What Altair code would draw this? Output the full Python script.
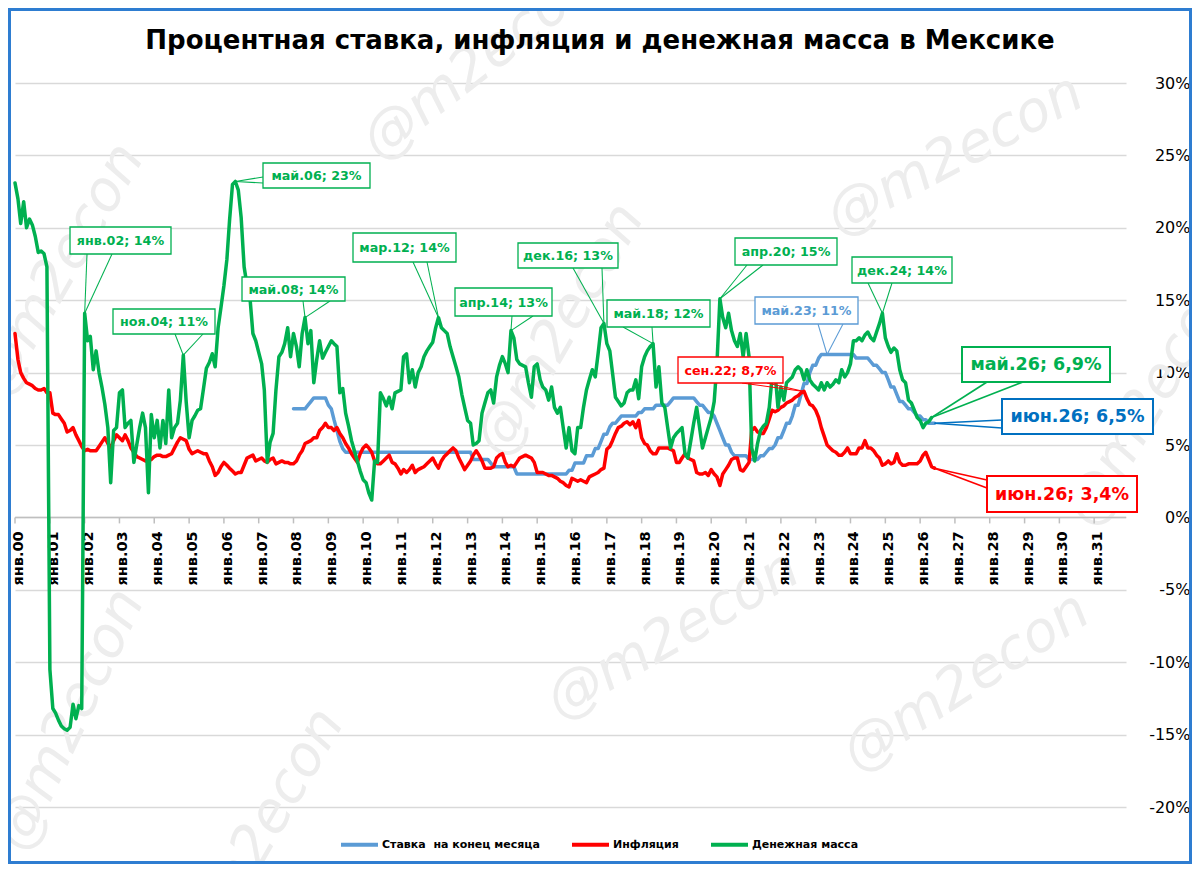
import altair as alt
import pandas as pd

TITLE = "Процентная ставка, инфляция и денежная масса в Мексике"
SERIES = ["Ставка\u00a0 на конец месяца", "Инфляция", "Денежная масса"]
COLORS = ["#5B9BD5", "#FF0000", "#00B050"]
WATERMARK = "@m2econ"

X_TICK_LABELS = ["янв.00", "янв.01", "янв.02", "янв.03", "янв.04", "янв.05", "янв.06", "янв.07",
                 "янв.08", "янв.09", "янв.10", "янв.11", "янв.12", "янв.13", "янв.14", "янв.15",
                 "янв.16", "янв.17", "янв.18", "янв.19", "янв.20", "янв.21", "янв.22", "янв.23",
                 "янв.24", "янв.25", "янв.26", "янв.27", "янв.28", "янв.29", "янв.30", "янв.31"]
Y_TICKS = [-20, -15, -10, -5, 0, 5, 10, 15, 20, 25, 30]
Y_TICK_LABELS = ["-20%", "-15%", "-10%", "-5%", "0%", "5%", "10%", "15%", "20%", "25%", "30%"]

# Денежная масса, % г/г, monthly from Jan 2000 to May 2026
money = [
    23.1, 22.0, 20.3, 21.8, 20.0, 20.6, 20.2, 19.4, 18.3, 18.4, 18.2, 17.3,  # 2000
    -10.5, -13.2, -13.5, -14.0, -14.4, -14.6, -14.7, -14.5, -12.9, -13.9, -13.0, -13.2,  # 2001
    14.1, 12.2, 12.5, 10.2, 11.5, 10.0, 9.0, 7.8, 6.2, 2.4, 6.0, 6.2,  # 2002
    8.6, 8.8, 6.2, 6.5, 6.7, 3.8, 5.0, 6.2, 7.2, 6.2, 1.7, 7.1,  # 2003
    5.5, 6.7, 4.8, 6.7, 5.1, 8.8, 5.5, 6.2, 6.5, 8.1, 11.2, 8.0,  # 2004
    5.5, 6.7, 7.0, 7.4, 7.5, 8.9, 10.3, 10.7, 11.3, 10.4, 13.1, 14.5,  # 2005
    16.0, 17.8, 20.5, 23.0, 23.2, 22.6, 20.7, 17.3, 16.0, 15.2, 12.7, 12.2,  # 2006
    11.4, 10.6, 8.8, 3.8, 5.2, 5.8, 8.8, 11.1, 11.4, 12.0, 13.1, 11.1,  # 2007
    12.7, 11.8, 10.4, 12.7, 13.8, 12.0, 12.9, 9.3, 10.9, 12.2, 11.0, 11.4,  # 2008
    11.8, 12.2, 12.0, 11.8, 8.6, 8.9, 7.2, 6.3, 5.3, 4.6, 3.9, 3.2,  # 2009
    2.6, 2.4, 1.7, 1.2, 3.9, 3.8, 8.6, 8.2, 7.7, 8.3, 7.5, 8.6,  # 2010
    8.7, 8.8, 11.1, 11.3, 9.3, 10.2, 9.0, 10.0, 10.4, 11.1, 11.5, 11.8,  # 2011
    12.1, 13.1, 13.8, 13.1, 12.9, 12.7, 11.8, 11.1, 10.4, 9.7, 8.5, 7.6,  # 2012
    6.7, 6.5, 5.0, 5.1, 5.3, 7.2, 7.9, 8.6, 8.8, 7.9, 9.7, 10.5,  # 2013
    11.1, 10.6, 10.0, 12.9, 12.4, 10.9, 10.6, 10.5, 10.4, 9.3, 8.3, 10.4,  # 2014
    10.6, 9.5, 9.0, 8.8, 8.1, 9.0, 7.6, 7.2, 7.6, 6.2, 4.8, 6.2,  # 2015
    4.6, 4.4, 6.2, 6.2, 7.6, 8.8, 9.5, 10.2, 9.7, 11.3, 13.1, 13.4,  # 2016
    12.0, 11.5, 10.0, 8.3, 8.0, 7.7, 7.9, 8.6, 8.8, 8.8, 9.5, 8.2,  # 2017
    10.4, 11.1, 11.5, 11.8, 12.0, 9.0, 10.4, 7.9, 7.6, 6.2, 4.8, 5.5,  # 2018
    5.8, 6.0, 6.2, 4.4, 4.1, 5.3, 6.5, 7.6, 6.2, 4.8, 5.5, 6.2,  # 2019
    6.9, 8.0, 10.6, 15.1, 13.8, 13.1, 14.1, 12.9, 12.2, 11.8, 12.7, 11.1,  # 2020
    12.7, 11.1, 4.8, 3.9, 5.1, 6.0, 6.3, 6.5, 7.6, 9.7, 10.0, 7.6,  # 2021
    9.0, 8.1, 9.3, 9.5, 9.7, 10.2, 10.4, 10.2, 9.5, 10.2, 9.5, 9.2,  # 2022
    9.0, 8.8, 9.3, 8.8, 9.3, 9.0, 9.2, 9.5, 9.3, 10.2, 9.7, 10.0,  # 2023
    10.6, 12.2, 12.2, 12.4, 12.2, 12.6, 12.8, 12.4, 12.2, 12.8, 13.4, 14.1,  # 2024
    12.4, 11.8, 11.4, 11.7, 11.5, 10.2, 9.5, 9.3, 8.1, 7.9, 7.4, 6.9,  # 2025
    6.7, 6.2, 6.5, 6.6, 6.9,  # 2026
]

# Инфляция, % г/г, monthly from Jan 2000 to Jun 2026
inflation = [
    12.7, 10.9, 10.0, 9.6, 9.3, 9.2, 9.1, 8.9, 8.8, 8.8, 8.9, 8.6,  # 2000
    8.6, 7.2, 7.1, 7.1, 6.8, 6.5, 5.9, 6.0, 6.2, 5.7, 5.3, 4.9,  # 2001
    4.6, 4.7, 4.6, 4.6, 4.6, 4.9, 5.2, 5.5, 5.1, 4.8, 5.3, 5.7,  # 2002
    5.5, 5.3, 5.7, 5.3, 4.8, 4.5, 4.2, 4.1, 4.0, 3.9, 3.9, 4.0,  # 2003
    4.2, 4.3, 4.3, 4.2, 4.2, 4.3, 4.4, 4.8, 5.2, 5.5, 5.4, 5.3,  # 2004
    4.7, 4.4, 4.5, 4.6, 4.5, 4.4, 4.4, 3.9, 3.5, 2.9, 3.1, 3.5,  # 2005
    3.8, 3.6, 3.4, 3.2, 3.0, 3.1, 3.1, 3.6, 4.1, 4.2, 4.3, 3.9,  # 2006
    4.0, 4.1, 3.9, 3.8, 4.0, 4.1, 3.7, 3.8, 3.9, 3.8, 3.8, 3.7,  # 2007
    3.7, 3.9, 4.3, 4.6, 5.1, 5.2, 5.3, 5.5, 5.5, 6.0, 6.2, 6.5,  # 2008
    6.2, 6.2, 6.0, 6.2, 5.8, 5.5, 5.1, 4.8, 4.4, 4.1, 3.8, 4.4,  # 2009
    4.8, 5.0, 4.8, 4.5, 3.9, 3.7, 3.7, 3.9, 4.1, 4.3, 3.8, 3.7,  # 2010
    3.4, 3.0, 3.3, 3.1, 3.3, 3.6, 3.1, 3.3, 3.4, 3.5, 3.7, 3.9,  # 2011
    4.1, 3.7, 3.4, 3.9, 4.2, 4.4, 4.6, 4.8, 4.6, 4.1, 3.7, 3.3,  # 2012
    3.6, 3.9, 4.3, 4.6, 4.3, 3.9, 3.4, 3.4, 3.4, 3.5, 4.1, 4.3,  # 2013
    4.4, 3.8, 3.5, 3.6, 3.5, 3.8, 4.1, 4.2, 4.3, 4.2, 4.1, 3.8,  # 2014
    3.1, 3.1, 3.1, 3.0, 2.9, 2.9, 2.8, 2.7, 2.5, 2.4, 2.2, 2.1,  # 2015
    2.7, 2.6, 2.5, 2.6, 2.5, 2.4, 2.8, 2.9, 3.0, 3.1, 3.3, 3.4,  # 2016
    4.7, 4.9, 5.3, 5.8, 6.2, 6.3, 6.5, 6.6, 6.4, 6.6, 6.2, 6.7,  # 2017
    5.5, 5.1, 5.0, 4.6, 4.4, 4.4, 4.8, 4.8, 4.8, 4.8, 4.7, 4.6,  # 2018
    3.8, 3.8, 4.1, 4.4, 4.1, 4.0, 3.9, 3.1, 3.0, 3.0, 3.1, 2.9,  # 2019
    3.3, 3.0, 2.8, 2.2, 3.0, 3.3, 3.6, 4.0, 4.1, 4.1, 3.3, 3.2,  # 2020
    3.5, 3.8, 6.0, 6.2, 5.9, 5.8, 5.8, 6.2, 6.8, 7.4, 7.3, 7.4,  # 2021
    7.6, 7.7, 7.9, 8.0, 8.1, 8.3, 8.4, 8.6, 8.7, 8.2, 7.8, 7.7,  # 2022
    7.4, 6.9, 6.2, 5.6, 5.0, 4.8, 4.6, 4.5, 4.3, 4.3, 4.5, 4.8,  # 2023
    4.4, 4.4, 4.4, 4.8, 4.8, 5.3, 4.8, 4.8, 4.6, 4.3, 4.1, 3.6,  # 2024
    3.7, 3.9, 3.7, 3.8, 4.4, 3.8, 3.6, 3.6, 3.7, 3.7, 3.7, 3.7,  # 2025
    3.9, 4.3, 4.5, 4.0, 3.5, 3.4,  # 2026
]

# Ставка на конец месяца, %, monthly from Jan 2008 to Jun 2026
rate = [
    7.5, 7.5, 7.5, 7.5, 7.5, 7.75, 8.0, 8.25, 8.25, 8.25, 8.25, 8.25,  # 2008
    7.75, 7.5, 6.75, 6.0, 5.25, 4.75, 4.5, 4.5, 4.5, 4.5, 4.5, 4.5,  # 2009
    4.5, 4.5, 4.5, 4.5, 4.5, 4.5, 4.5, 4.5, 4.5, 4.5, 4.5, 4.5,  # 2010
    4.5, 4.5, 4.5, 4.5, 4.5, 4.5, 4.5, 4.5, 4.5, 4.5, 4.5, 4.5,  # 2011
    4.5, 4.5, 4.5, 4.5, 4.5, 4.5, 4.5, 4.5, 4.5, 4.5, 4.5, 4.5,  # 2012
    4.5, 4.5, 4.0, 4.0, 4.0, 4.0, 4.0, 4.0, 3.75, 3.5, 3.5, 3.5,  # 2013
    3.5, 3.5, 3.5, 3.5, 3.5, 3.0, 3.0, 3.0, 3.0, 3.0, 3.0, 3.0,  # 2014
    3.0, 3.0, 3.0, 3.0, 3.0, 3.0, 3.0, 3.0, 3.0, 3.0, 3.0, 3.25,  # 2015
    3.25, 3.75, 3.75, 3.75, 3.75, 4.25, 4.25, 4.25, 4.75, 4.75, 5.25, 5.75,  # 2016
    5.75, 6.25, 6.5, 6.5, 6.75, 7.0, 7.0, 7.0, 7.0, 7.0, 7.0, 7.25,  # 2017
    7.25, 7.5, 7.5, 7.5, 7.5, 7.75, 7.75, 7.75, 7.75, 7.75, 8.0, 8.25,  # 2018
    8.25, 8.25, 8.25, 8.25, 8.25, 8.25, 8.25, 8.0, 7.75, 7.75, 7.5, 7.25,  # 2019
    7.25, 7.0, 6.5, 6.0, 5.5, 5.0, 5.0, 4.5, 4.25, 4.25, 4.25, 4.25,  # 2020
    4.25, 4.0, 4.0, 4.0, 4.0, 4.25, 4.25, 4.5, 4.75, 4.75, 5.0, 5.5,  # 2021
    5.5, 6.0, 6.5, 6.5, 7.0, 7.75, 7.75, 8.5, 9.25, 9.25, 10.0, 10.5,  # 2022
    10.5, 11.0, 11.25, 11.25, 11.25, 11.25, 11.25, 11.25, 11.25, 11.25, 11.25, 11.25,  # 2023
    11.25, 11.25, 11.0, 11.0, 11.0, 11.0, 11.0, 10.75, 10.5, 10.5, 10.25, 10.0,  # 2024
    10.0, 9.5, 9.0, 9.0, 8.5, 8.0, 8.0, 7.75, 7.5, 7.5, 7.25, 7.0,  # 2025
    7.0, 6.75, 6.75, 6.5, 6.5, 6.5,  # 2026
]

# Callout labels: text, series index, month of the marked point
ANN_TEXT = ["янв.02; 14%", "ноя.04; 11%", "май.06; 23%", "май.08; 14%", "мар.12; 14%",
            "апр.14; 13%", "дек.16; 13%", "май.18; 12%", "апр.20; 15%", "сен.22; 8,7%",
            "май.23; 11%", "дек.24; 14%", "май.26; 6,9%", "июн.26; 6,5%", "июн.26; 3,4%"]
ANN_SERIES = [2, 2, 2, 2, 2, 2, 2, 2, 2, 1, 0, 2, 2, 0, 1]
ANN_MONTH = ["2002-01", "2004-11", "2006-05", "2008-05", "2012-03", "2014-04", "2016-12",
             "2018-05", "2020-04", "2022-09", "2023-05", "2024-12", "2026-05", "2026-06", "2026-06"]

# ---- layout (page pixels of callout boxes and pointer roots; styles) ----
ANN_BOX = [(70, 227, 171, 254), (113, 309, 215, 334), (263, 163, 370, 188), (242, 277, 345, 301),
           (353, 233, 456, 262), (455, 288, 552, 316), (518, 243, 618, 268), (607, 300, 710, 327),
           (735, 238, 837, 265), (678, 357, 783, 383), (755, 297, 858, 324), (852, 257, 952, 283),
           (962, 347, 1110, 382), (1002, 399, 1153, 434), (987, 476, 1137, 512)]
ANN_ROOTS = [((87, 254), (112, 254)), ((175, 334), (203, 334)), ((263, 177), (263, 183)),
             ((303, 301), (330, 301)), ((413, 262), (427, 262)), ((512, 316), (533, 316)),
             ((573, 268), (602, 268)), ((623, 327), (652, 327)), ((747, 265), (763, 265)),
             ((742, 383), (767, 383)), ((818, 324), (843, 324)), ((868, 283), (892, 283)),
             ((987, 382), (1023, 382)), ((1002, 420), (1002, 428)), ((987, 480), (987, 488))]
ANN_FS = [12.7] * 12 + [17.5, 17.5, 17.5]
ANN_SW = [1.3] * 12 + [2.0, 2.0, 2.0]
ANN_COLOR = ["#00B050"] * 9 + ["#FF0000", "#5B9BD5", "#00B050", "#00B050", "#0070C0", "#FF0000"]

# watermark centres (page px) and rotation
WM_POS = [(480, 62), (955, 155), (60, 270), (560, 330), (1150, 400), (673, 635), (966, 682),
          (70, 720), (260, 835)]
WM_ANGLE = [322, 332, 300, 300, 300, 330, 327, 295, 300]

FONT = "DejaVu Sans"
PLOT_W, PLOT_H = 1111, 724
PX0, PY0 = 15, 83
T0 = pd.Timestamp("2000-01-01")
T1 = pd.Timestamp("2031-12-01")
Y_MIN, Y_MAX = -20, 30
ZERO_PX = PLOT_H * Y_MAX / (Y_MAX - Y_MIN)  # pixel row of the 0% line inside the plot


def px_t(px):
    return T0 + (px - PX0) / PLOT_W * (T1 - T0)


def py_v(py):
    return Y_MAX - (py - PY0) / PLOT_H * (Y_MAX - Y_MIN)


# ---- data tables ----
frames = []
for name, vals, start in [(SERIES[0], rate, "2008-01-01"), (SERIES[1], inflation, "2000-01-01"),
                          (SERIES[2], money, "2000-01-01")]:
    frames.append(pd.DataFrame({"date": pd.date_range(start, periods=len(vals), freq="MS"),
                                "value": vals, "series": name}))
lines_df = pd.concat(frames, ignore_index=True)

box_rows, text_rows, rule_rows = [], [], []
for i, txt in enumerate(ANN_TEXT):
    name = SERIES[ANN_SERIES[i]]
    d = pd.Timestamp(ANN_MONTH[i] + "-01")
    sub = lines_df[(lines_df.series == name) & (lines_df.date == d)]
    tip_v = float(sub.value.iloc[0])
    x0, y0, x1, y1 = ANN_BOX[i]
    box_rows.append({"x": px_t(x0), "x2": px_t(x1), "y": py_v(y0), "y2": py_v(y1),
                     "col": ANN_COLOR[i], "sw": ANN_SW[i]})
    text_rows.append({"x": px_t((x0 + x1) / 2), "y": py_v((y0 + y1) / 2 + 0.5), "text": txt,
                      "col": ANN_COLOR[i], "fs": ANN_FS[i]})
    for (rx, ry) in ANN_ROOTS[i]:
        rule_rows.append({"x": px_t(rx), "y": py_v(ry), "x2": d, "y2": tip_v,
                          "col": ANN_COLOR[i], "sw": ANN_SW[i] * 0.8})
box_df = pd.DataFrame(box_rows)
text_df = pd.DataFrame(text_rows)
rule_df = pd.DataFrame(rule_rows)
wm_df = pd.DataFrame({"x": [px_t(p[0]) for p in WM_POS], "y": [py_v(p[1]) for p in WM_POS],
                      "angle": WM_ANGLE, "text": WATERMARK})
xt_df = pd.DataFrame({"date": pd.date_range("2000-01-01", periods=len(X_TICK_LABELS), freq="YS"),
                      "label": X_TICK_LABELS})

x_scale = alt.Scale(domain=[alt.DateTime(year=2000, month=1, date=1),
                            alt.DateTime(year=2031, month=12, date=1)])
y_scale = alt.Scale(domain=[Y_MIN, Y_MAX], nice=False)

y_label_expr = "{" + ",".join("'%d':'%s'" % (v, s) for v, s in zip(Y_TICKS, Y_TICK_LABELS)) + "}[datum.value]"

x_enc = alt.X("date:T", scale=x_scale, title=None,
              axis=alt.Axis(labels=False, ticks=False, grid=False, domain=False))
y_enc = alt.Y("value:Q", scale=y_scale, title=None,
              axis=alt.Axis(orient="right", values=Y_TICKS, labelExpr=y_label_expr, grid=True,
                            gridColor="#D9D9D9", gridWidth=1.5, domain=False, ticks=False,
                            labelAlign="right", labelPadding=64, labelFont=FONT,
                            labelFontSize=16, labelColor="black"))

color_enc = alt.Color("series:N", scale=alt.Scale(domain=SERIES, range=COLORS),
                      legend=alt.Legend(title=None, orient="none", legendX=324, legendY=741,
                                        direction="horizontal", symbolType="stroke",
                                        symbolSize=1369, symbolStrokeWidth=4,
                                        labelFont=FONT, labelFontSize=11, labelFontWeight="bold",
                                        labelColor="black", labelLimit=400, labelOffset=2,
                                        columnPadding=24))

watermarks = alt.Chart(wm_df).mark_text(font=FONT, fontSize=56, fontStyle="italic",
                                        color="#EDEDED", align="center",
                                        baseline="middle").encode(
    x=alt.X("x:T", scale=x_scale), y=alt.Y("y:Q", scale=y_scale), text="text:N",
    angle=alt.Angle("angle:Q", scale=None))

# x axis at the 0% line: domain, yearly ticks and rotated labels
x_domain = alt.Chart(pd.DataFrame({"t": [0]})).mark_rule(color="#BFBFBF", strokeWidth=1.5).encode(
    x=alt.value(0), x2=alt.value(PLOT_W), y=alt.value(ZERO_PX))
x_ticks = alt.Chart(xt_df).mark_rule(color="#BFBFBF", strokeWidth=1.5).encode(
    x=alt.X("date:T", scale=x_scale), y=alt.value(ZERO_PX), y2=alt.value(ZERO_PX + 6))
x_labels = alt.Chart(xt_df).mark_text(font=FONT, fontSize=14.5, fontWeight="bold",
                                      color="black", angle=270, align="right",
                                      baseline="middle", dy=4).encode(
    x=alt.X("date:T", scale=x_scale), y=alt.value(ZERO_PX + 14), text="label:N")

base = alt.Chart(lines_df)
line_layers = [
    base.transform_filter(alt.datum.series == s).mark_line(strokeWidth=3.5, strokeJoin="round",
                                                           strokeCap="round")
    .encode(x=x_enc, y=y_enc, color=color_enc)
    for s in SERIES
]

rules = alt.Chart(rule_df).mark_rule().encode(
    x="x:T", y="y:Q", x2="x2:T", y2="y2:Q",
    stroke=alt.Stroke("col:N", scale=None), strokeWidth=alt.StrokeWidth("sw:Q", scale=None))
boxes = alt.Chart(box_df).mark_rect(fill="white").encode(
    x="x:T", x2="x2:T", y="y:Q", y2="y2:Q",
    stroke=alt.Stroke("col:N", scale=None), strokeWidth=alt.StrokeWidth("sw:Q", scale=None))
texts = alt.Chart(text_df).mark_text(font=FONT, fontWeight="bold", align="center",
                                     baseline="middle").encode(
    x="x:T", y="y:Q", text="text:N",
    fill=alt.Fill("col:N", scale=None), size=alt.Size("fs:Q", scale=None))

title_mark = alt.Chart(pd.DataFrame({"t": [TITLE]})).mark_text(
    font=FONT, fontSize=26, fontWeight="bold", color="black", align="center",
    baseline="alphabetic").encode(text="t:N", x=alt.value(585), y=alt.value(-34))

frame = alt.Chart(pd.DataFrame({"t": [0]})).mark_rect(
    fillOpacity=0, stroke="#2E7DD1", strokeWidth=3).encode(
    x=alt.value(-5.5), x2=alt.value(1175.5), y=alt.value(-73.5), y2=alt.value(779.5))

chart = alt.layer(watermarks, x_domain, x_ticks, x_labels, *line_layers, rules, boxes, texts,
                  title_mark, frame).properties(
    width=PLOT_W, height=PLOT_H,
    padding={"left": 7, "top": 75, "right": 66, "bottom": 57},
    autosize=alt.AutoSizeParams(type="none"),
    background="white",
).configure_view(stroke=None)

chart.save("out.html", embed_options={"renderer": "svg", "actions": False})
